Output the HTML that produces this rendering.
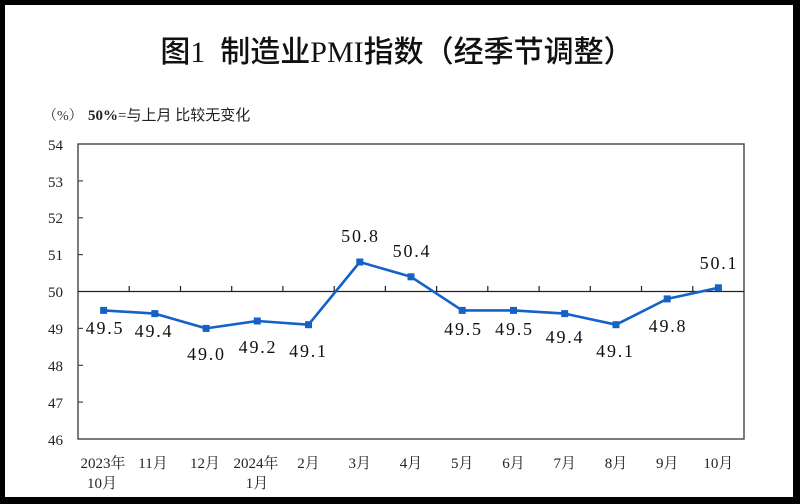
<!DOCTYPE html>
<html>
<head>
<meta charset="utf-8">
<style>
html,body{margin:0;padding:0;background:#000;}
body{width:800px;height:504px;overflow:hidden;}
svg{display:block;}
.yl{font-family:"Liberation Serif","Noto Serif CJK SC",serif;font-size:15px;fill:#222;}
.xl{font-family:"Liberation Serif","Noto Serif CJK SC",serif;font-size:15px;fill:#222;}
.dl{font-family:"Liberation Serif",serif;font-size:18px;fill:#111;letter-spacing:1.8px;}
</style>
</head>
<body>
<svg width="800" height="504" viewBox="0 0 800 504" xmlns="http://www.w3.org/2000/svg">
  <rect x="0" y="0" width="800" height="504" fill="#000"/>
  <rect x="5" y="5" width="788" height="492" fill="#fff"/>

  <!-- Title -->
  <text x="397" y="62" text-anchor="middle" xml:space="preserve" font-family="'Liberation Serif','Noto Sans CJK SC',sans-serif" font-size="30" font-weight="500" fill="#111">图1  制造业PMI指数（经季节调整）</text>

  <!-- Subtitle -->
  <text x="43" y="120" font-family="'Liberation Serif','Noto Serif CJK SC',serif" font-size="14" fill="#333">（%）</text>
  <text x="88" y="120" font-family="'Liberation Serif','Noto Sans CJK SC',sans-serif" font-size="15" fill="#222"><tspan font-weight="bold">50%</tspan>=与上月 比较无变化</text>

  <!-- Plot frame -->
  <rect x="78" y="144" width="666" height="295" fill="none" stroke="#444" stroke-width="1.4"/>

  <!-- Y ticks -->
  <g stroke="#444" stroke-width="1.2">
    <line x1="78" y1="180.9" x2="83" y2="180.9"/>
    <line x1="78" y1="217.8" x2="83" y2="217.8"/>
    <line x1="78" y1="254.6" x2="83" y2="254.6"/>
    <line x1="78" y1="328.4" x2="83" y2="328.4"/>
    <line x1="78" y1="365.3" x2="83" y2="365.3"/>
    <line x1="78" y1="402.1" x2="83" y2="402.1"/>
  </g>

  <!-- Y labels -->
  <g class="yl" text-anchor="end">
    <text x="63" y="150">54</text>
    <text x="63" y="187">53</text>
    <text x="63" y="223">52</text>
    <text x="63" y="260">51</text>
    <text x="63" y="297">50</text>
    <text x="63" y="334">49</text>
    <text x="63" y="371">48</text>
    <text x="63" y="408">47</text>
    <text x="63" y="445">46</text>
  </g>

  <!-- 50 line with ticks -->
  <line x1="78" y1="291.5" x2="744" y2="291.5" stroke="#222" stroke-width="1.3"/>
  <g stroke="#222" stroke-width="1.2">
    <line x1="129.2" y1="286" x2="129.2" y2="291.5"/>
    <line x1="180.5" y1="286" x2="180.5" y2="291.5"/>
    <line x1="231.7" y1="286" x2="231.7" y2="291.5"/>
    <line x1="282.9" y1="286" x2="282.9" y2="291.5"/>
    <line x1="334.2" y1="286" x2="334.2" y2="291.5"/>
    <line x1="385.4" y1="286" x2="385.4" y2="291.5"/>
    <line x1="436.6" y1="286" x2="436.6" y2="291.5"/>
    <line x1="487.8" y1="286" x2="487.8" y2="291.5"/>
    <line x1="539.1" y1="286" x2="539.1" y2="291.5"/>
    <line x1="590.3" y1="286" x2="590.3" y2="291.5"/>
    <line x1="641.5" y1="286" x2="641.5" y2="291.5"/>
    <line x1="692.8" y1="286" x2="692.8" y2="291.5"/>
  </g>

  <!-- Series -->
  <polyline fill="none" stroke="#1462C8" stroke-width="2.6" stroke-linejoin="round"
    points="103.6,310.4 154.8,313.6 206.1,328.4 257.3,321.0 308.5,324.7 359.8,262.0 411.0,276.8 462.2,310.4 513.5,310.4 564.7,313.6 616.0,324.7 667.2,298.9 718.4,287.8"/>
  <g fill="#1462C8">
    <rect x="100.1" y="306.9" width="7" height="7"/>
    <rect x="151.3" y="310.1" width="7" height="7"/>
    <rect x="202.6" y="324.9" width="7" height="7"/>
    <rect x="253.8" y="317.5" width="7" height="7"/>
    <rect x="305.0" y="321.2" width="7" height="7"/>
    <rect x="356.3" y="258.5" width="7" height="7"/>
    <rect x="407.5" y="273.3" width="7" height="7"/>
    <rect x="458.7" y="306.9" width="7" height="7"/>
    <rect x="510.0" y="306.9" width="7" height="7"/>
    <rect x="561.2" y="310.1" width="7" height="7"/>
    <rect x="612.5" y="321.2" width="7" height="7"/>
    <rect x="663.7" y="295.4" width="7" height="7"/>
    <rect x="714.9" y="284.3" width="7" height="7"/>
  </g>

  <!-- Data labels -->
  <g class="dl" text-anchor="middle">
    <text x="105" y="334">49.5</text>
    <text x="154" y="337">49.4</text>
    <text x="206.5" y="360">49.0</text>
    <text x="258" y="353">49.2</text>
    <text x="308.5" y="357">49.1</text>
    <text x="360.5" y="242">50.8</text>
    <text x="412" y="257">50.4</text>
    <text x="463.5" y="335">49.5</text>
    <text x="514.5" y="335">49.5</text>
    <text x="565" y="343">49.4</text>
    <text x="615.5" y="357">49.1</text>
    <text x="668" y="332">49.8</text>
    <text x="719" y="269">50.1</text>
  </g>

  <!-- X labels -->
  <g class="xl" text-anchor="middle">
    <text x="103" y="468">2023年</text>
    <text x="102" y="488">10月</text>
    <text x="153" y="468">11月</text>
    <text x="205" y="468">12月</text>
    <text x="256" y="468">2024年</text>
    <text x="257" y="488">1月</text>
    <text x="308.5" y="468">2月</text>
    <text x="359.8" y="468">3月</text>
    <text x="411" y="468">4月</text>
    <text x="462.2" y="468">5月</text>
    <text x="513.5" y="468">6月</text>
    <text x="564.7" y="468">7月</text>
    <text x="616" y="468">8月</text>
    <text x="667.2" y="468">9月</text>
    <text x="718.4" y="468">10月</text>
  </g>
</svg>
</body>
</html>
